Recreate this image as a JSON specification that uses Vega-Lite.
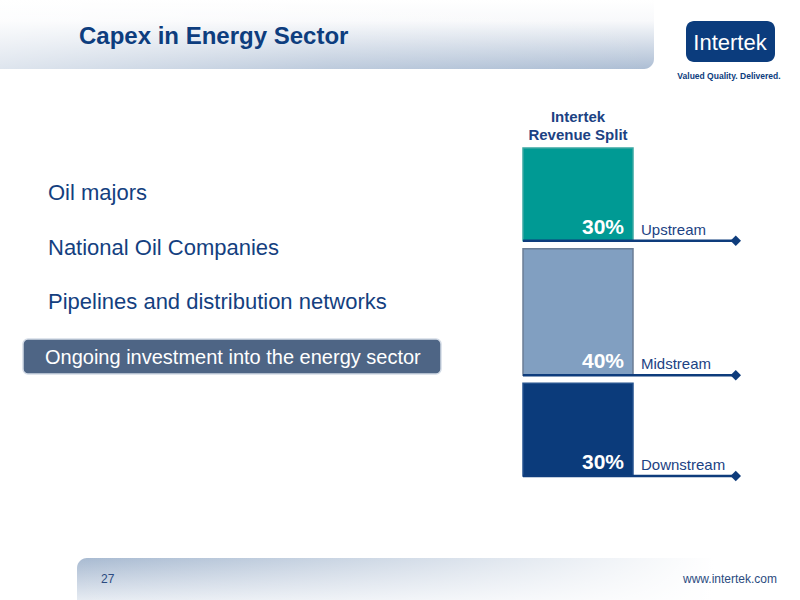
{
  "$schema": "https://vega.github.io/schema/vega-lite/v6.json",
  "width": 800,
  "height": 600,
  "autosize": {"type": "fit", "contains": "padding"},
  "padding": 0,
  "background": "#ffffff",
  "config": {
    "view": {"stroke": null},
    "text": {"font": "Liberation Sans"}
  },
  "datasets": {
    "slide": [
      {"title": "Capex in Energy Sector", "page": "27", "url": "www.intertek.com", "logo": "Intertek", "tagline": "Valued Quality. Delivered."}
    ],
    "bullets": [
      {"item": "Oil majors", "order": 1, "highlight": false},
      {"item": "National Oil Companies", "order": 2, "highlight": false},
      {"item": "Pipelines and distribution networks", "order": 3, "highlight": false},
      {"item": "Ongoing investment into the energy sector", "order": 4, "highlight": true}
    ],
    "revenue": [
      {"segment": "Upstream", "share": 0.3, "order": 1},
      {"segment": "Midstream", "share": 0.4, "order": 2},
      {"segment": "Downstream", "share": 0.3, "order": 3}
    ],
    "header": [
      {"header": "Intertek\nRevenue Split"}
    ]
  },
  "layer": [
    {
      "data": {"name": "slide"},
      "layer": [
        {
          "mark": {"type": "rect", "cornerRadiusBottomRight": 10,
            "color": {"gradient": "linear", "x1": 0, "y1": 0, "x2": 0, "y2": 1,
              "stops": [{"offset": 0, "color": "#ffffff"}, {"offset": 0.3, "color": "#f8f9fb"}, {"offset": 1, "color": "#adbed4"}]}},
          "encoding": {
            "x": {"datum": 0, "type": "quantitative", "scale": {"domain": [0, 800], "range": [0, 800], "nice": false, "zero": false}, "axis": null},
            "x2": {"datum": 654},
            "y": {"datum": 0, "type": "quantitative", "scale": {"domain": [0, 600], "range": [0, 600], "nice": false, "zero": false}, "axis": null},
            "y2": {"datum": 69}
          }
        },
        {
          "mark": {"type": "rect", "cornerRadiusBottomRight": 10,
            "color": {"gradient": "linear", "x1": 0, "y1": 0, "x2": 1, "y2": 0,
              "stops": [{"offset": 0, "color": "rgba(255,255,255,0.6)"}, {"offset": 0.5, "color": "rgba(255,255,255,0.2)"}, {"offset": 1, "color": "rgba(255,255,255,0)"}]}},
          "encoding": {
            "x": {"datum": 0, "type": "quantitative", "axis": null},
            "x2": {"datum": 654},
            "y": {"datum": 0, "type": "quantitative", "axis": null},
            "y2": {"datum": 69}
          }
        },
        {
          "mark": {"type": "rect", "cornerRadiusTopLeft": 10,
            "color": {"gradient": "linear", "x1": 0, "y1": 0, "x2": 0, "y2": 1,
              "stops": [{"offset": 0, "color": "#a8bad1"}, {"offset": 1, "color": "#e6ebf2"}]}},
          "encoding": {
            "x": {"datum": 77, "type": "quantitative", "axis": null},
            "x2": {"datum": 800},
            "y": {"datum": 558, "type": "quantitative", "axis": null},
            "y2": {"datum": 600}
          }
        },
        {
          "mark": {"type": "rect",
            "color": {"gradient": "linear", "x1": 0, "y1": 0, "x2": 1, "y2": 0,
              "stops": [{"offset": 0, "color": "rgba(255,255,255,0)"}, {"offset": 0.5, "color": "rgba(255,255,255,0.55)"}, {"offset": 0.88, "color": "rgba(255,255,255,1)"}, {"offset": 1, "color": "rgba(255,255,255,1)"}]}},
          "encoding": {
            "x": {"datum": 77, "type": "quantitative", "axis": null},
            "x2": {"datum": 800},
            "y": {"datum": 558, "type": "quantitative", "axis": null},
            "y2": {"datum": 600}
          }
        },
        {
          "mark": {"type": "rect", "cornerRadius": 8, "color": "#0b3c7d"},
          "encoding": {
            "x": {"datum": 686, "type": "quantitative", "axis": null},
            "x2": {"datum": 775},
            "y": {"datum": 21, "type": "quantitative", "axis": null},
            "y2": {"datum": 62}
          }
        },
        {
          "mark": {"type": "text", "align": "center", "baseline": "alphabetic", "fontSize": 22, "color": "#ffffff"},
          "encoding": {
            "x": {"datum": 730, "type": "quantitative", "axis": null},
            "y": {"datum": 50, "type": "quantitative", "axis": null},
            "text": {"field": "logo"}
          }
        },
        {
          "mark": {"type": "text", "align": "center", "baseline": "alphabetic", "fontSize": 8.5, "fontWeight": "bold", "color": "#0b3c7d"},
          "encoding": {
            "x": {"datum": 729, "type": "quantitative", "axis": null},
            "y": {"datum": 79, "type": "quantitative", "axis": null},
            "text": {"field": "tagline"}
          }
        },
        {
          "mark": {"type": "text", "align": "left", "baseline": "alphabetic", "fontSize": 24, "fontWeight": "bold", "color": "#0d3d7e"},
          "encoding": {
            "x": {"datum": 79, "type": "quantitative", "axis": null},
            "y": {"datum": 44, "type": "quantitative", "axis": null},
            "text": {"field": "title"}
          }
        },
        {
          "mark": {"type": "text", "align": "left", "baseline": "alphabetic", "fontSize": 12, "color": "#2c4b80"},
          "encoding": {
            "x": {"datum": 101, "type": "quantitative", "axis": null},
            "y": {"datum": 583, "type": "quantitative", "axis": null},
            "text": {"field": "page"}
          }
        },
        {
          "mark": {"type": "text", "align": "right", "baseline": "alphabetic", "fontSize": 12, "color": "#2c4b80"},
          "encoding": {
            "x": {"datum": 777, "type": "quantitative", "axis": null},
            "y": {"datum": 583, "type": "quantitative", "axis": null},
            "text": {"field": "url"}
          }
        }
      ]
    },
    {
      "data": {"name": "bullets"},
      "layer": [
        {
          "transform": [{"filter": "datum.highlight"}],
          "mark": {"type": "bar", "height": 35, "yOffset": -7.5, "cornerRadius": 5, "color": "#4e6585", "stroke": "#d3dbe6", "strokeWidth": 1.5},
          "encoding": {
            "x": {"datum": 0, "type": "quantitative", "scale": {"domain": [0, 1], "range": [23, 441], "nice": false, "zero": false}, "axis": null},
            "x2": {"datum": 1},
            "y": {"field": "item", "type": "ordinal", "sort": {"field": "order"}, "scale": {"type": "point", "range": [200, 364], "padding": 0}, "axis": null}
          }
        },
        {
          "transform": [{"filter": "!datum.highlight"}],
          "mark": {"type": "text", "align": "left", "baseline": "alphabetic", "fontSize": 22, "dx": 25, "color": "#143f80"},
          "encoding": {
            "x": {"datum": 0, "type": "quantitative", "axis": null},
            "y": {"field": "item", "type": "ordinal", "sort": {"field": "order"}, "axis": null},
            "text": {"field": "item"}
          }
        },
        {
          "transform": [{"filter": "datum.highlight"}],
          "mark": {"type": "text", "align": "left", "baseline": "alphabetic", "fontSize": 20, "dx": 22, "color": "#ffffff"},
          "encoding": {
            "x": {"datum": 0, "type": "quantitative", "axis": null},
            "y": {"field": "item", "type": "ordinal", "sort": {"field": "order"}, "axis": null},
            "text": {"field": "item"}
          }
        }
      ]
    },
    {
      "data": {"name": "revenue"},
      "transform": [
        {"stack": "share", "groupby": [], "sort": [{"field": "order", "order": "descending"}], "as": ["lo", "hi"]}
      ],
      "layer": [
        {
          "mark": {"type": "rect", "yOffset": 8, "strokeWidth": 1.5},
          "encoding": {
            "x": {"datum": 0, "type": "quantitative", "scale": {"domain": [0, 1], "range": [523, 633], "nice": false, "zero": false}, "axis": null},
            "x2": {"datum": 1},
            "y": {"field": "hi", "type": "quantitative", "scale": {"domain": [0, 1], "range": [476, 140], "nice": false, "zero": false}, "axis": null},
            "y2": {"field": "lo"},
            "color": {"field": "segment", "type": "nominal", "scale": {"domain": ["Upstream", "Midstream", "Downstream"], "range": ["#009a94", "#819fc1", "#0b3b7b"]}, "legend": null},
            "stroke": {"field": "segment", "type": "nominal", "scale": {"domain": ["Upstream", "Midstream", "Downstream"], "range": ["#3aa8a3", "#6b7d95", "#24528e"]}, "legend": null}
          }
        },
        {
          "mark": {"type": "rule", "color": "#0e3c7c", "strokeWidth": 2.5},
          "encoding": {
            "x": {"datum": 0, "type": "quantitative", "axis": null},
            "x2": {"datum": 1.934},
            "y": {"field": "lo", "type": "quantitative", "axis": null}
          }
        },
        {
          "mark": {"type": "point", "shape": "diamond", "filled": true, "size": 110, "opacity": 1, "color": "#0e3c7c"},
          "encoding": {
            "x": {"datum": 1.934, "type": "quantitative", "axis": null},
            "y": {"field": "lo", "type": "quantitative", "axis": null}
          }
        },
        {
          "mark": {"type": "text", "align": "right", "baseline": "alphabetic", "fontSize": 21, "fontWeight": "bold", "dx": -9, "dy": -7, "color": "#ffffff"},
          "encoding": {
            "x": {"datum": 1, "type": "quantitative", "axis": null},
            "y": {"field": "lo", "type": "quantitative", "axis": null},
            "text": {"field": "share", "type": "quantitative", "format": ".0%"}
          }
        },
        {
          "mark": {"type": "text", "align": "left", "baseline": "alphabetic", "fontSize": 15, "dx": 8, "dy": -6, "color": "#1c4283"},
          "encoding": {
            "x": {"datum": 1, "type": "quantitative", "axis": null},
            "y": {"field": "lo", "type": "quantitative", "axis": null},
            "text": {"field": "segment"}
          }
        },
        {
          "data": {"name": "header"},
          "mark": {"type": "text", "align": "center", "baseline": "alphabetic", "fontSize": 15, "fontWeight": "bold", "lineBreak": "\n", "lineHeight": 18, "dy": -18, "color": "#1c4283"},
          "encoding": {
            "x": {"datum": 0.5, "type": "quantitative", "axis": null},
            "y": {"datum": 1, "type": "quantitative", "axis": null},
            "text": {"field": "header"}
          }
        }
      ]
    }
  ],
  "resolve": {"scale": {"x": "independent", "y": "independent", "color": "independent", "stroke": "independent"}}
}
